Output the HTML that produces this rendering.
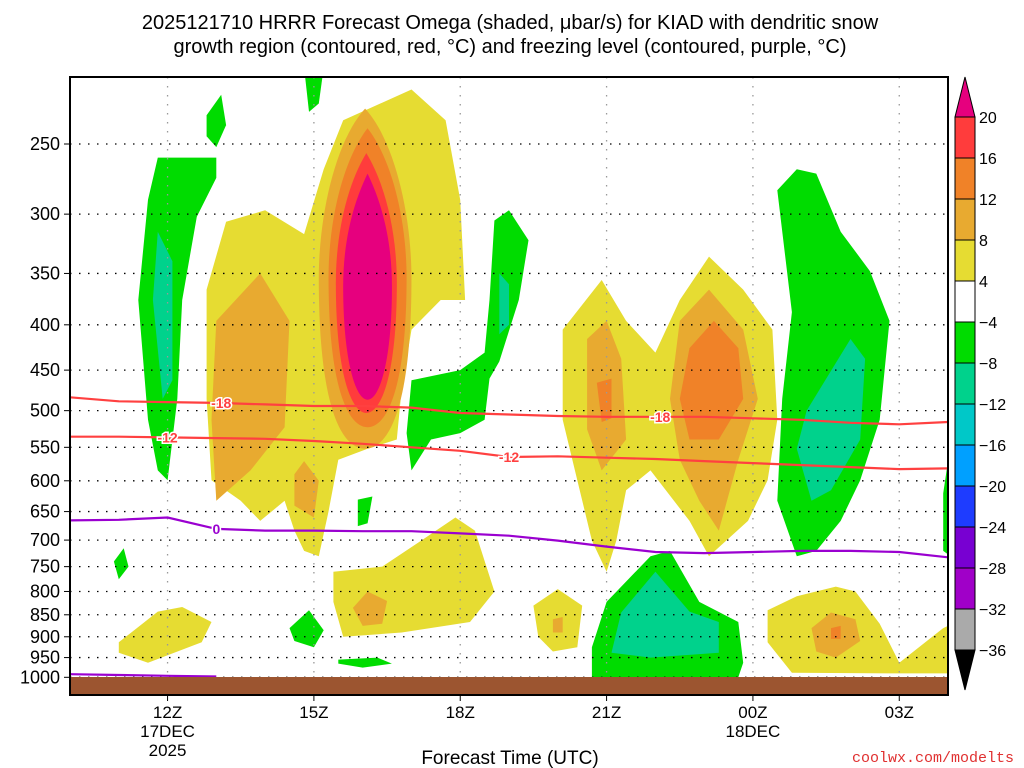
<!DOCTYPE html>
<html><head><meta charset="utf-8">
<style>
html,body{margin:0;padding:0;background:#fff;}
svg{display:block;font-family:"Liberation Sans","DejaVu Sans",sans-serif;}
</style></head>
<body>
<svg id="chart" width="1024" height="768" viewBox="0 0 1024 768" xmlns="http://www.w3.org/2000/svg">
<text x="510" y="29" text-anchor="middle" font-size="20" fill="#000">2025121710 HRRR Forecast Omega (shaded, μbar/s) for KIAD with dendritic snow</text>
<text x="510" y="53" text-anchor="middle" font-size="20" fill="#000">growth region (contoured, red, °C) and freezing level (contoured, purple, °C)</text>
<defs><clipPath id="plotclip"><rect x="70" y="77" width="878" height="618"/></clipPath></defs>
<g id="shading" clip-path="url(#plotclip)"></g>
<g id="grid"></g>
<g id="lines" clip-path="url(#plotclip)"></g>
<rect x="70" y="677" width="878" height="18" fill="#9c5530"/>
<rect x="70" y="77" width="878" height="618" fill="none" stroke="#000" stroke-width="2"/>
<g id="axes"></g>
<g id="colorbar"></g>
<text x="510" y="764" text-anchor="middle" font-size="19" fill="#000">Forecast Time (UTC)</text>
<text x="1014" y="762" text-anchor="end" font-size="15" fill="#e03030" font-family="Liberation Mono, monospace">coolwx.com/modelts</text>
</svg>
<script>
// ---- data ----
const pressureTicks = [250,300,350,400,450,500,550,600,650,700,750,800,850,900,950,1000];
const timeTickHours = [2,5,8,11,14,17];
const timeTickLabels = [["12Z","17DEC","2025"],["15Z"],["18Z"],["21Z"],["00Z","18DEC"],["03Z"]];
const cbLevels = [20,16,12,8,4,-4,-8,-12,-16,-20,-24,-28,-32,-36];
const cbColors = ["#ff3c3c","#f08228","#e8aa30","#e6dc32","#ffffff","#00dc00","#00d28c","#00c8c8","#00a0ff","#1e3cff","#7800d2","#a000c8","#aaaaaa"];
const colorOf = {y:"#e6dc32",o:"#e8aa30",d:"#f08228",r:"#ff3c3c",m:"#e6007e",g:"#00dc00",t:"#00d28c",c:"#00c8c8"};
// polygons: [color, [[hourSince10Z, pressure], ...]]
const polys = [
 ["y",[[2.8,365],[3.2,306],[4.0,297],[4.8,316],[5.2,267],[5.6,235],[7.0,217],[7.7,235],[8.0,289],[8.1,375],[7.6,375],[7.0,405],[6.8,472],[6.7,539],[6.1,552],[5.5,568],[5.3,650],[5.1,730],[4.8,720],[4.6,683],[4.4,632],[3.9,666],[3.5,632],[2.9,599],[2.8,485]]],
 ["o",[[3.0,396],[3.9,350],[4.5,396],[4.4,522],[3.7,584],[3.0,632],[2.9,512]]],
 ["o",[[4.8,570],[5.1,600],[5.0,660],[4.6,640],[4.6,590]]],
 ["g",[[1.6,289],[1.8,259],[3.0,259],[3.0,273],[2.6,302],[2.3,375],[2.2,485],[2.0,599],[1.8,584],[1.6,512],[1.4,375]]],
 ["t",[[1.8,314],[2.1,339],[2.1,462],[1.9,485],[1.7,375]]],
 ["g",[[2.8,232],[3.1,220],[3.2,238],[3.0,252],[2.8,245]]],
 ["g",[[4.8,205],[5.2,205],[5.1,225],[4.9,230]]],
 ["g",[[8.7,305],[9.0,297],[9.4,321],[9.2,375],[8.8,440],[8.6,460],[8.5,512],[8.0,530],[7.4,539],[7.0,584],[6.9,530],[7.0,462],[8.0,450],[8.5,430],[8.6,375]]],
 ["t",[[8.8,350],[9.0,360],[9.0,400],[8.8,410]]],
 ["y",[[10.1,405],[10.9,356],[11.4,396],[12.0,430],[12.5,375],[13.1,335],[13.8,365],[14.4,405],[14.5,512],[14.3,599],[13.9,666],[13.1,730],[12.7,666],[11.9,584],[11.4,615],[11.2,701],[11.0,760],[10.7,701],[10.4,599],[10.1,512]]],
 ["o",[[10.6,415],[11.0,396],[11.3,437],[11.4,539],[10.9,584],[10.6,525]]],
 ["o",[[12.5,396],[13.1,365],[13.8,405],[14.1,485],[13.7,568],[13.3,683],[12.9,632],[12.5,568],[12.3,485]]],
 ["d",[[12.7,425],[13.2,396],[13.7,425],[13.8,485],[13.3,539],[12.7,539],[12.5,485]]],
 ["d",[[10.8,465],[11.1,460],[11.1,510],[10.9,515]]],
 ["g",[[14.5,282],[14.9,267],[15.3,270],[15.8,314],[16.4,348],[16.8,396],[16.6,512],[16.2,599],[15.8,666],[15.3,720],[14.9,730],[14.5,632],[14.6,485],[14.8,387]]],
 ["t",[[16.0,415],[16.3,437],[16.2,539],[15.6,615],[15.2,632],[14.9,552],[15.1,500]]],
 ["g",[[17.9,620],[18.2,480],[18.2,740],[17.9,720]]],
 ["g",[[0.9,740],[1.1,715],[1.2,750],[1.0,775]]],
 ["g",[[4.5,880],[4.9,840],[5.2,885],[5.0,925],[4.6,910]]],
 ["g",[[5.5,955],[6.3,950],[6.6,965],[6.0,975],[5.5,965]]],
 ["g",[[5.9,630],[6.2,625],[6.1,670],[5.9,675]]],
 ["g",[[10.7,925],[11.0,822],[11.9,730],[12.3,720],[12.9,822],[13.7,866],[13.8,963],[13.7,1000],[10.7,1000]]],
 ["t",[[11.1,938],[11.3,845],[12.0,760],[12.7,843],[13.3,866],[13.3,938],[11.9,950]]],
 ["y",[[5.4,760],[6.4,750],[7.2,701],[7.9,660],[8.3,683],[8.7,800],[8.2,866],[6.8,890],[5.6,900],[5.4,822]]],
 ["o",[[5.8,835],[6.1,800],[6.5,820],[6.4,870],[6.0,875]]],
 ["y",[[1.0,913],[1.8,843],[2.3,833],[2.9,866],[2.7,913],[1.6,963],[1.0,938]]],
 ["y",[[9.5,830],[10.0,795],[10.5,830],[10.4,925],[9.9,935],[9.6,900]]],
 ["o",[[9.9,860],[10.1,855],[10.1,890],[9.9,890]]],
 ["y",[[14.3,840],[14.9,810],[15.7,790],[16.1,800],[16.6,870],[17.0,963],[17.9,880],[18.1,870],[18.1,990],[16.8,990],[14.8,988],[14.3,913]]],
 ["o",[[15.2,880],[15.6,845],[16.1,860],[16.2,910],[15.7,950],[15.3,935]]],
 ["d",[[15.6,880],[15.8,875],[15.8,905],[15.6,905]]]
];
// central pointed core rings: [color, hourLeft, hourRight, pTop, pBottom]
const cores = [["o",5.1,7.0,228,552],["d",5.3,6.9,240,522],["r",5.45,6.7,256,503],["m",5.6,6.6,270,486]];
const lineHours = [0,1,2,3,4,5,6,7,8,9,10,11,12,13,14,15,16,17,18];
const tempMinus18 = [483,488,489,490,492,494,494,496,503,505,507,508,508,508,510,512,516,518,515];
const tempMinus12 = [535,535,536,537,538,541,545,550,555,564,563,565,567,570,573,576,579,582,581];
const tempZero = [665,664,660,680,683,683,684,684,688,692,701,712,722,724,722,720,720,722,732];
const zeroSurfaceHours = [0,1,2,3];
const zeroSurface = [992,994,996,998];
// ---- axes ----
const X0=70, PX=48.78, Y250=144, PY=384.7;
const xs = h => X0 + h*PX;
const ys = p => Y250 + Math.log(p/250)*PY;
const NS="http://www.w3.org/2000/svg";
function mk(tag, attrs, parent){const e=document.createElementNS(NS,tag);for(const k in attrs)e.setAttribute(k,attrs[k]);parent.appendChild(e);return e;}
const shading=document.getElementById('shading');
polys.forEach(([c,pts],i)=>{
  const e=mk('polygon',{points:pts.map(q=>xs(q[0]).toFixed(1)+","+ys(q[1]).toFixed(1)).join(" "),fill:colorOf[c]},shading);
  
  
});
cores.forEach(([c,h1,h2,pt,pb],i)=>{
  const xl=xs(h1),xr=xs(h2),xm=(xl+xr)/2,yt=ys(pt),yb=ys(pb),w=(xr-xl)/2;
  const d=`M${xm},${yt} C${xm+w*0.6},${yt+30} ${xr},${yt+(yb-yt)*0.3} ${xr},${(yt+yb)/2} C${xr},${yb-40} ${xm+w*0.5},${yb} ${xm},${yb} C${xm-w*0.5},${yb} ${xl},${yb-40} ${xl},${(yt+yb)/2} C${xl},${yt+(yb-yt)*0.3} ${xm-w*0.6},${yt+30} ${xm},${yt}Z`;
  const e=mk('path',{d:d,fill:colorOf[c]},shading);
  
  
});
const grid=document.getElementById('grid'), axes=document.getElementById('axes');
pressureTicks.forEach(p=>{
  const y=ys(p);
  const g=mk('line',{x1:70,x2:948,y1:y,y2:y,stroke:"#000","stroke-width":1.3,"stroke-dasharray":"1.5 7.5"},grid);
  
  
  mk('line',{x1:64,x2:70,y1:y,y2:y,stroke:"#000"},axes);
  const t=mk('text',{x:60,y:y+6,"text-anchor":"end","font-size":18,fill:"#000"},axes);
  t.textContent=p;
  
  
});
timeTickHours.forEach((h,i)=>{
  const x=xs(h);
  const g=mk('line',{x1:x,x2:x,y1:77,y2:677,stroke:"#999","stroke-width":1.3,"stroke-dasharray":"1.5 7.5"},grid);
  
  
  mk('line',{x1:x,x2:x,y1:695,y2:701,stroke:"#000"},axes);
  timeTickLabels[i].forEach((s,j)=>{
    const t=mk('text',{x:x,y:718+j*19,"text-anchor":"middle","font-size":17,fill:"#000"},axes);
    t.textContent=s;
    
    
  });
});
const lines=document.getElementById('lines');
function drawLine(hs,ps,color,name,labels){
  const e=mk('polyline',{points:hs.map((h,i)=>xs(h).toFixed(1)+","+ys(ps[i]).toFixed(1)).join(" "),fill:"none",stroke:color,"stroke-width":2.2},lines);
  
  
  labels.forEach(([h,s])=>{
    const i=Math.floor(h), f=h-i, p=ps[i]+(ps[Math.min(i+1,ps.length-1)]-ps[i])*f;
    const x=xs(h), y=ys(p);
    const t=mk('text',{x:x,y:y+5,"text-anchor":"middle","font-size":14,"font-weight":"bold",fill:color,stroke:"#fff","stroke-width":3,"paint-order":"stroke"},lines);
    t.textContent=s;
    
    
  });
}
drawLine(lineHours,tempMinus18,"#ff4040","isotherm-minus-18",[[3.1,"-18"],[12.1,"-18"]]);
drawLine(lineHours,tempMinus12,"#ff4040","isotherm-minus-12",[[2.0,"-12"],[9.0,"-12"]]);
drawLine(lineHours,tempZero,"#9a00d0","freezing-level",[[3.0,"0"]]);
drawLine(zeroSurfaceHours,zeroSurface,"#9a00d0","freezing-level-surface",[]);
// colorbar
const cb=document.getElementById('colorbar');
const CBX=955, CBW=20, CBT=117, CBS=41;
const up=mk('polygon',{points:`${CBX},${CBT} ${CBX+CBW},${CBT} ${CBX+CBW/2},77`,fill:"#e6007e",stroke:"#000"},cb);


cbColors.forEach((c,i)=>{
  const r=mk('rect',{x:CBX,y:CBT+i*CBS,width:CBW,height:CBS,fill:c,stroke:"#000","stroke-width":1},cb);
  
  
});
const yb=CBT+cbColors.length*CBS;
const dn=mk('polygon',{points:`${CBX},${yb} ${CBX+CBW},${yb} ${CBX+CBW/2},690`,fill:"#000",stroke:"#000"},cb);


cbLevels.forEach((v,i)=>{
  const t=mk('text',{x:979,y:CBT+i*CBS+6,"font-size":16,fill:"#000"},cb);
  t.textContent=v<0?"\u2212"+(-v):String(v);
  
  
});
</script>
</body></html>
